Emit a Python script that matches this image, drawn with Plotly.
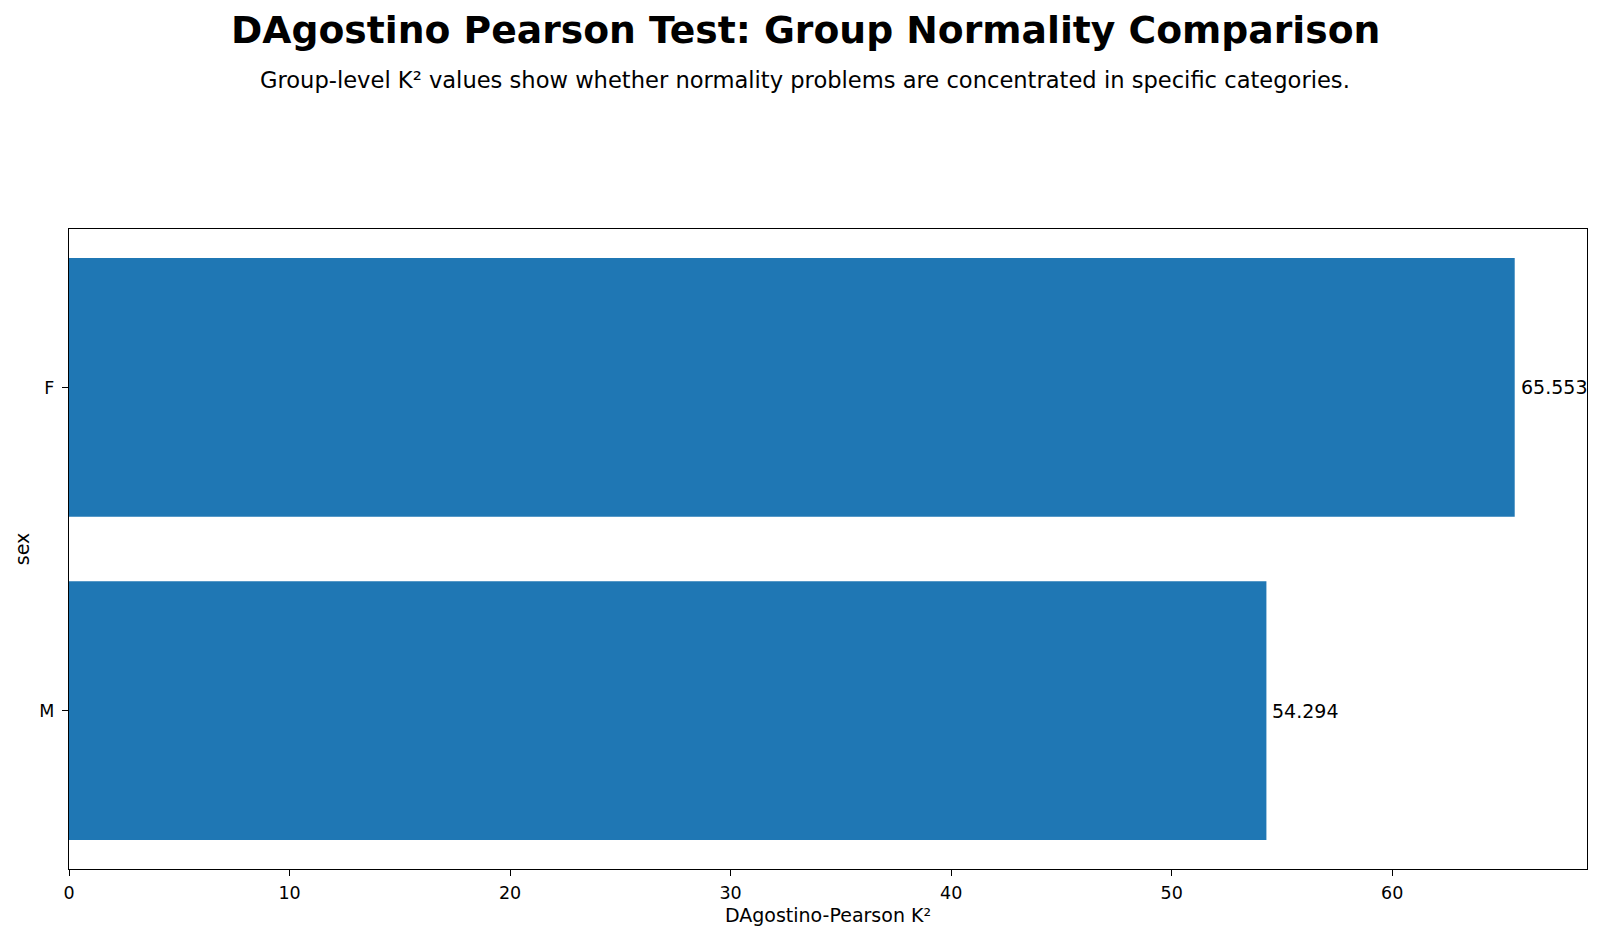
import plotly.graph_objects as go

categories = ["M", "F"]
k2_values = [54.294, 65.553]
value_labels = ["54.294", "65.553"]
x_ticks = [0, 10, 20, 30, 40, 50, 60]

title_text = "DAgostino Pearson Test: Group Normality Comparison"
subtitle_text = "Group-level K² values show whether normality problems are concentrated in specific categories."
x_title = "DAgostino-Pearson K²"
y_title = "sex"

W, H = 1600, 939
L, R, T, B = 68.5, 13.3, 229, 70
plot_h = H - T - B

def py(y_px):
    return (H - B - y_px) / plot_h

font_family = "DejaVu Sans"
xc = (W / 2 + 5 - L) / (W - L - R)

fig = go.Figure()
fig.add_trace(go.Bar(
    x=k2_values, y=categories, orientation="h", width=0.8,
    marker=dict(color="#1f77b4", line=dict(width=0)),
    hoverinfo="x+y",
))

annotations = []
for cat, v, lab in zip(categories, k2_values, value_labels):
    annotations.append(dict(
        x=v, y=cat, xref="x", yref="y", text=lab, showarrow=False,
        xanchor="left", yanchor="middle", xshift=4,
        font=dict(family=font_family, size=19, color="black"),
    ))

annotations.append(dict(
    x=xc, xref="paper", y=py(30), yref="paper", text="<b>" + title_text + "</b>",
    showarrow=False, xanchor="center", yanchor="middle",
    font=dict(family=font_family, size=37.7, color="black"),
))
annotations.append(dict(
    x=xc, xref="paper", y=py(80), yref="paper", text=subtitle_text,
    showarrow=False, xanchor="center", yanchor="middle",
    font=dict(family=font_family, size=22.6, color="black"),
))

fig.update_layout(
    width=W, height=H,
    margin=dict(l=L, r=R, t=T, b=B, pad=0),
    paper_bgcolor="white", plot_bgcolor="white",
    showlegend=False,
    annotations=annotations,
    font=dict(family=font_family, color="black"),
    bargap=0.2,
)

fig.update_xaxes(
    range=[0, 65.553 * 1.05],
    tickvals=x_ticks, ticktext=[str(t) for t in x_ticks],
    ticks="outside", ticklen=6, tickwidth=1.2, tickcolor="black",
    tickfont=dict(family=font_family, size=17.5, color="black"),
    ticklabelstandoff=2,
    showline=True, linecolor="black", linewidth=1.3, mirror=True,
    showgrid=False, zeroline=False,
    title=dict(text=x_title, font=dict(family=font_family, size=19, color="black"), standoff=6),
)
fig.update_yaxes(
    type="category", categoryorder="array", categoryarray=categories,
    range=[-0.49, 1.49],
    ticks="outside", ticklen=6, tickwidth=1.2, tickcolor="black",
    tickfont=dict(family=font_family, size=17.5, color="black"),
    ticklabelstandoff=4,
    showline=True, linecolor="black", linewidth=1.3, mirror=True,
    showgrid=False, zeroline=False,
    title=dict(text=y_title, font=dict(family=font_family, size=19, color="black"), standoff=4),
)

fig.write_html("out.html")
